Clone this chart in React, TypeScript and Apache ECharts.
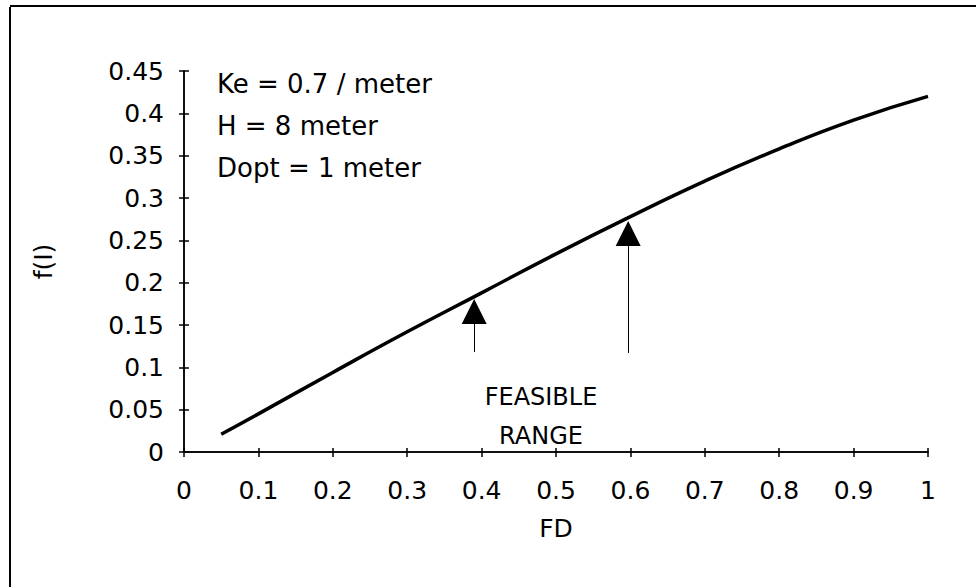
import React, { useEffect, useRef } from "react";
import * as echarts from "echarts";

const fdValues = [0.05, 0.1, 0.2, 0.3, 0.4, 0.5, 0.6, 0.7, 0.8, 0.9, 1.0];
const fiValues = [0.021, 0.045, 0.094, 0.142, 0.188, 0.234, 0.278, 0.32, 0.358, 0.392, 0.42];
const arrowX = [0.39, 0.597];
const arrowBottom = [0.118, 0.117];
const arrowTop = [0.166, 0.258];
const notes = ["Ke = 0.7 / meter", "H = 8 meter", "Dopt = 1 meter"];
const rangeLabel = ["FEASIBLE", "RANGE"];

const FONT = "'DejaVu Sans', 'Liberation Sans', Arial, sans-serif";

export default function App() {
  const ref = useRef<HTMLDivElement>(null);
  useEffect(() => {
    if (!ref.current) return;
    const chart = echarts.init(ref.current, undefined, { renderer: "svg" });
    const gridPos = { left: 184, right: 48, top: 71, bottom: 135 };
    const axisLine = { lineStyle: { color: "#000", width: 1.5 } };
    const xBase = { type: "value" as const, min: 0, max: 1, interval: 0.1, splitLine: { show: false } };
    const yBase = { type: "value" as const, min: 0, max: 0.45, interval: 0.05, splitLine: { show: false } };
    chart.setOption({
      animation: false,
      backgroundColor: "#fff",
      grid: [
        { ...gridPos },
        { ...gridPos },
      ],
      xAxis: [
        {
          ...xBase,
          gridIndex: 0,
          name: "FD",
          nameLocation: "middle",
          nameGap: 64,
          nameTextStyle: { color: "#000", fontSize: 25, fontFamily: FONT },
          axisLine,
          axisTick: { show: true, length: 5, lineStyle: { color: "#000", width: 1.5 } },
          axisLabel: { color: "#000", fontSize: 25, fontFamily: FONT, margin: 26 },
        },
        {
          ...xBase,
          gridIndex: 1,
          axisLine,
          axisTick: { show: true, inside: true, length: 4, lineStyle: { color: "#000", width: 1.5 } },
          axisLabel: { show: false },
        },
      ],
      yAxis: [
        {
          ...yBase,
          gridIndex: 0,
          name: "f(I)",
          nameLocation: "middle",
          nameGap: 128,
          nameTextStyle: { color: "#000", fontSize: 25, fontFamily: FONT },
          axisLine,
          axisTick: { show: true, length: 5, lineStyle: { color: "#000", width: 1.5 } },
          axisLabel: { color: "#000", fontSize: 25, fontFamily: FONT, margin: 20 },
        },
        {
          ...yBase,
          gridIndex: 1,
          axisLine,
          axisTick: { show: true, inside: true, length: 5, lineStyle: { color: "#000", width: 1.5 } },
          axisLabel: { show: false },
        },
      ],
      series: [
        {
          type: "line",
          xAxisIndex: 0,
          yAxisIndex: 0,
          data: fdValues.map((x, i) => [x, fiValues[i]]),
          smooth: true,
          showSymbol: false,
          lineStyle: { color: "#000", width: 3.5 },
          markLine: {
            silent: true,
            symbol: ["none", "triangle"],
            symbolSize: 25,
            label: { show: false },
            lineStyle: { color: "#000", width: 1, type: "solid" },
            itemStyle: { color: "#000" },
            data: arrowX.map((x, i) => [
              { coord: [x, arrowBottom[i]] },
              { coord: [x, arrowTop[i]] },
            ]),
          },
        },
      ],
      graphic: [
        { type: "line", shape: { x1: 10, y1: 7, x2: 10, y2: 587 }, style: { stroke: "#000", lineWidth: 2 } },
        { type: "line", shape: { x1: 10, y1: 6, x2: 976, y2: 6 }, style: { stroke: "#000", lineWidth: 2 } },
        ...notes.map((t, i) => ({
          type: "text",
          x: 217,
          y: [84, 126, 168][i],
          style: { text: t, fill: "#000", fontSize: 26, fontFamily: FONT, textVerticalAlign: "middle" },
        })),
        ...rangeLabel.map((t, i) => ({
          type: "text",
          x: 541,
          y: [397, 436][i],
          style: { text: t, fill: "#000", fontSize: 24, fontFamily: FONT, textAlign: "center", textVerticalAlign: "middle" },
        })),
      ],
    });
    return () => chart.dispose();
  }, []);
  return <div ref={ref} style={{ position: "absolute", left: 0, top: 0, width: 976, height: 587 }} />;
}
